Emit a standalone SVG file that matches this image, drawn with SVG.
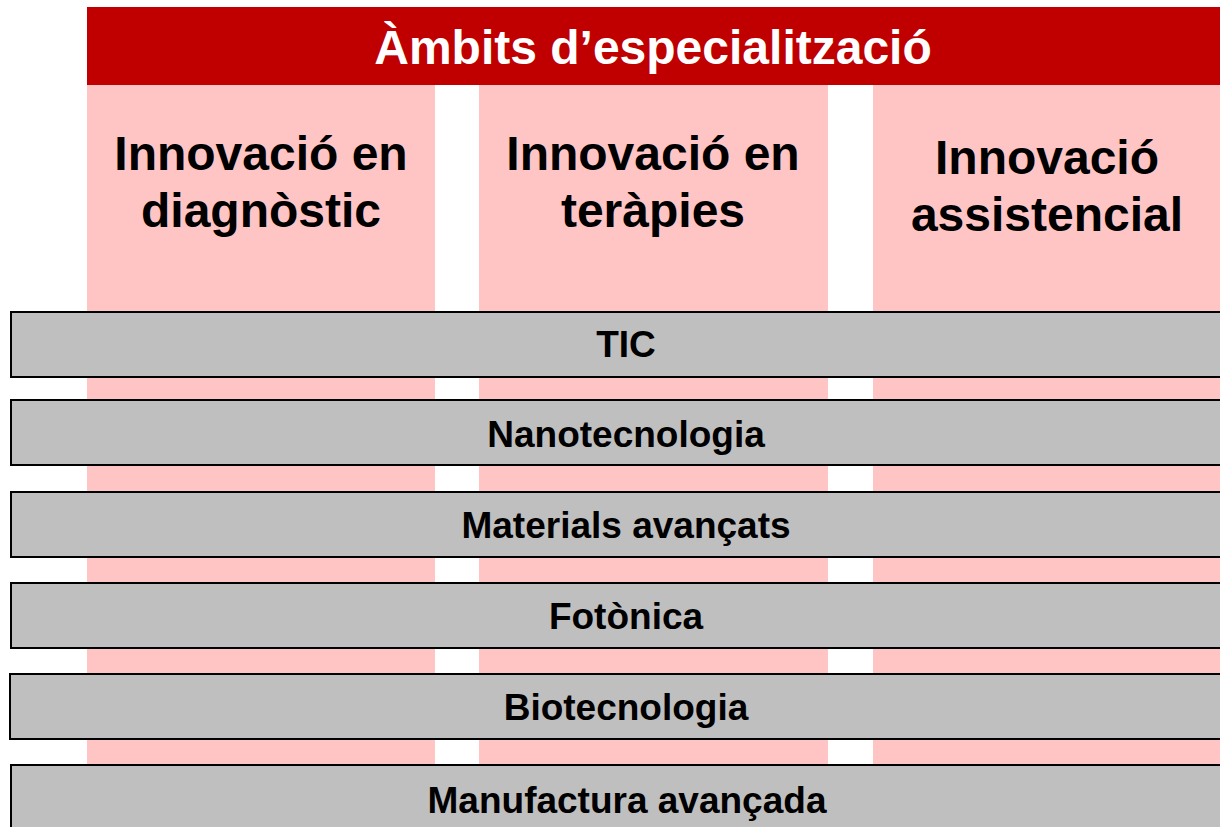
<svg xmlns="http://www.w3.org/2000/svg" width="1220" height="827" viewBox="0 0 1220 827">
<style>
.col{fill:#FFC5C5}
.bar{fill:#BFBFBF;stroke:#000;stroke-width:2}
.t{font-family:"Liberation Sans",Arial,sans-serif;font-weight:bold;text-anchor:middle}
.h{font-size:48px;fill:#FFFFFF}
.c{font-size:48px;fill:#000}
.b{font-size:37px;fill:#000}
</style>
<rect width="1220" height="827" fill="#FFFFFF"/>
<g id="header">
<rect x="87" y="7" width="1140" height="78" fill="#C00000"/>
<text class="t h" x="653" y="64">Àmbits d’especialització</text>
</g>
<g id="col-diagnostic">
<rect class="col" x="87" y="85" width="348" height="742"/>
<text class="t c" x="261" y="170">Innovació en</text>
<text class="t c" x="261" y="227">diagnòstic</text>
</g>
<g id="col-terapies">
<rect class="col" x="479" y="85" width="349" height="742"/>
<text class="t c" x="653" y="170">Innovació en</text>
<text class="t c" x="653" y="227">teràpies</text>
</g>
<g id="col-assistencial">
<rect class="col" x="873" y="85" width="360" height="742"/>
<text class="t c" x="1047" y="174">Innovació</text>
<text class="t c" x="1047" y="231">assistencial</text>
</g>
<g id="bar-tic">
<rect class="bar" x="11" y="312" width="1230" height="65"/>
<text class="t b" x="626" y="357">TIC</text>
</g>
<g id="bar-nano">
<rect class="bar" x="11" y="400" width="1230" height="65"/>
<text class="t b" x="626" y="447">Nanotecnologia</text>
</g>
<g id="bar-materials">
<rect class="bar" x="11" y="492" width="1230" height="65"/>
<text class="t b" x="626" y="538">Materials avançats</text>
</g>
<g id="bar-fotonica">
<rect class="bar" x="11" y="583" width="1230" height="65"/>
<text class="t b" x="626" y="629">Fotònica</text>
</g>
<g id="bar-biotec">
<rect class="bar" x="10" y="674" width="1230" height="65"/>
<text class="t b" x="626" y="720">Biotecnologia</text>
</g>
<g id="bar-manufactura">
<rect class="bar" x="11" y="765" width="1230" height="75"/>
<text class="t b" x="627" y="813">Manufactura avançada</text>
</g>
<g id="connectors"/>
</svg>
